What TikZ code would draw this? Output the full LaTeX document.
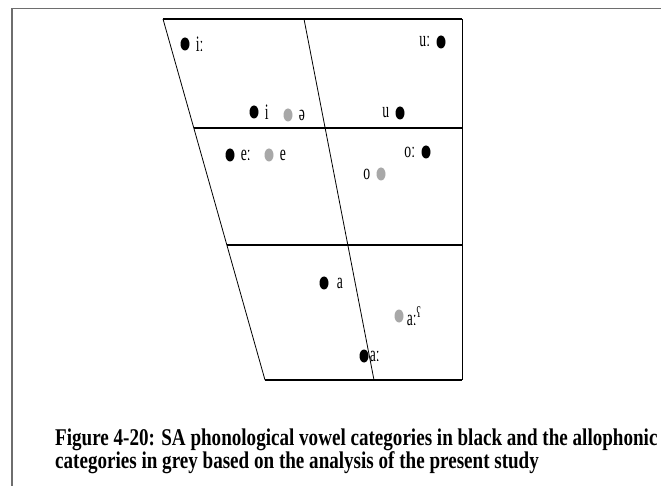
\documentclass[tikz,border=0pt]{standalone}
\usepackage{fontspec}
\setmainfont{Liberation Serif}
\newfontfamily\narrowserif[FakeStretch=0.62]{Liberation Serif}
\newfontfamily\capserif[FakeStretch=0.795]{Liberation Serif}
\usetikzlibrary{shapes.geometric,positioning}
\definecolor{allogrey}{HTML}{A8A8A8}
\definecolor{framegrey}{HTML}{6E6E6E}
\tikzset{
  phon/.style={ellipse, fill=black, inner sep=0pt, minimum width=9pt, minimum height=13pt},
  allo/.style={phon, fill=allogrey},
  vlabel/.style={font=\narrowserif\fontsize{22}{22}\selectfont, inner sep=0pt},
  caption/.style={font=\capserif\fontsize{24}{24}\selectfont\bfseries, inner sep=0pt, anchor=base west},
  chart/.style={line width=0.8pt},
  rule/.style={line width=1.3pt}
}

\begin{document}
\begin{tikzpicture}[x=1pt,y=-1pt,node distance=6pt]
\useasboundingbox (0,0) rectangle (661,486);
\clip (0,0) rectangle (661,486);
% page frame
\draw[framegrey, line width=1.2pt] (12,486) -- (12,8.5) -- (661,8.5);
% vowel chart
\coordinate (tl) at (163,19);
\coordinate (tm) at (304,19);
\coordinate (tr) at (462,19);
\coordinate (hl1) at (194,128);
\coordinate (hr1) at (462,128);
\coordinate (hl2) at (227,245);
\coordinate (hr2) at (462,245);
\coordinate (bl) at (265,380);
\coordinate (bm) at (374,380);
\coordinate (br) at (462,380);
\draw[chart] (tl) -- (bl);
\draw[chart] (tm) -- (bm);
\draw[chart] (tr) -- (br);
\draw[rule] (tl) -- (tr);
\draw[rule] (hl1) -- (hr1);
\draw[rule] (hl2) -- (hr2);
\draw[rule] (bl) -- (br);
% phonological categories (black) and allophones (grey)
\node[phon] (iL) at (185,44) {};
\node[vlabel, right=of iL] (iLt) {iː};
\node[phon] (uL) at (441,42) {};
\node[vlabel, left=of uL] (uLt) {uː};
\node[phon] (iS) at (254,112) {};
\node[vlabel, right=of iS] (iSt) {i};
\node[allo] (schwa) at (288,115) {};
\node[vlabel, right=of schwa] (schwat) {ə};
\node[phon] (uS) at (400,113) {};
\node[vlabel, left=of uS] (uSt) {u};
\node[phon] (eL) at (230,155) {};
\node[vlabel, right=of eL] (eLt) {eː};
\node[allo] (eS) at (269,155) {};
\node[vlabel, right=of eS] (eSt) {e};
\node[phon] (oL) at (426,152) {};
\node[vlabel, left=of oL] (oLt) {oː};
\node[allo] (oS) at (381,174) {};
\node[vlabel, left=of oS] (oSt) {o};
\node[phon] (aS) at (324,283) {};
\node[vlabel, right=8pt of aS] (aSt) {a};
\node[allo] (aP) at (399,316) {};
\node[vlabel, right=3pt of aP] (aPt) {aː\textsuperscript{ʕ}};
\node[phon] (aL) at (364,356) {};
\node[vlabel, right=1pt of aL] (aLt) {aː};
% caption
\node[caption] (cap1) at (55,445) {Figure 4-20: SA phonological vowel categories in black and the allophonic};
\node[caption] (cap2) at (55,468) {categories in grey based on the analysis of the present study};
\end{tikzpicture}
\end{document}
